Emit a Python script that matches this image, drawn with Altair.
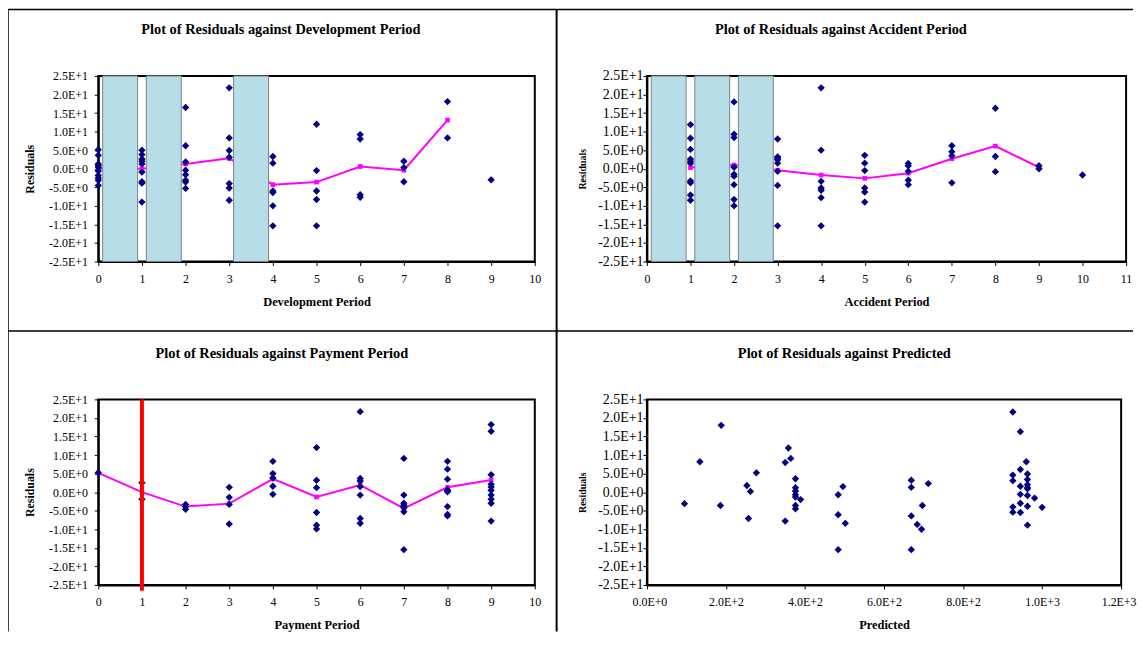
import altair as alt
import pandas as pd

# ---------------- data ----------------
# Plot 1: residuals against development period
DEV_X = [0]*10 + [1]*9 + [2]*8 + [3]*7 + [4]*6 + [5]*5 + [6]*4 + [7]*3 + [8]*2 + [9]
DEV_RES = [5.1, 3.6, 1.3, 0.9, 0.4, -0.6, -1.8, -2.5, -3.1, -4.5,
           5.0, 3.8, 2.6, 2.0, 1.3, -0.9, -3.5, -3.9, -9.0,
           16.5, 6.2, 1.8, -0.4, -1.6, -3.1, -3.6, -5.3,
           21.8, 8.3, 4.9, 3.1, -4.0, -5.2, -8.5,
           3.3, 1.5, -6.4, -6.0, -10.0, -15.4,
           12.0, -0.5, -6.0, -8.3, -15.4,
           9.2, 8.0, -7.0, -7.7,
           2.0, 0.3, -3.5,
           18.1, 8.3,
           -3.0]
DEV_MEAN_X = [0, 1, 2, 3, 4, 5, 6, 7, 8]
DEV_MEAN = [0.0, 0.0, 1.3, 2.8, -4.3, -3.6, 0.6, -0.4, 13.1]
DEV_BAND_FROM = [0.1, 1.1, 3.1]
DEV_BAND_TO = [0.9, 1.9, 3.9]

# Plot 2: residuals against accident period
ACC_X = [1]*10 + [2]*9 + [3]*8 + [4]*7 + [5]*6 + [6]*5 + [7]*4 + [8]*3 + [9]*2 + [10]
ACC_RES = [11.9, 8.2, 5.2, 2.6, 2.0, -3.3, -3.8, -7.1, -8.5, 1.5,
           18.0, 9.3, 8.4, 0.4, -1.5, -2.0, -4.3, -8.3, -10.0,
           8.0, 3.2, 2.4, 1.5, -0.7, -4.5, -15.4, 2.9,
           21.8, 5.0, -3.4, -5.2, -5.8, -7.8, -15.4,
           3.6, 1.5, -0.5, -5.2, -6.3, -9.0,
           1.4, 0.8, -0.7, -3.1, -4.3,
           6.2, 4.6, 3.5, -3.8,
           16.3, 3.3, -0.8,
           0.8, 0.0,
           -1.7]
ACC_MEAN_X = [1, 2, 3, 4, 5, 6, 7, 8, 9]
ACC_MEAN = [0.3, 1.0, -0.4, -1.7, -2.6, -1.2, 2.7, 6.1, 0.4]
ACC_BAND_FROM = [0.1, 1.1, 2.1]
ACC_BAND_TO = [0.9, 1.9, 2.9]

# Plot 3: residuals against payment period
PAY_X = [0] + [1]*2 + [2]*3 + [3]*4 + [4]*5 + [5]*6 + [6]*7 + [7]*8 + [8]*9 + [9]*10
PAY_RES = [5.2,
           2.5, -1.9,
           -3.3, -3.9, -4.6,
           1.3, -1.4, -3.3, -8.6,
           8.3, 5.0, 3.8, 1.6, -0.6,
           12.0, 3.2, 1.2, -5.5, -8.9, -9.9,
           21.7, 3.7, 3.0, 1.5, -0.8, -7.1, -8.4,
           9.1, -0.8, -3.0, -3.5, -4.2, -5.3, -15.5, -3.8,
           8.3, 6.2, 3.5, 0.6, 0.1, -3.9, -6.0, -6.4, 0.3,
           18.2, 16.4, 4.7, 2.1, 1.4, 0.5, -0.8, -1.9, -3.0, -7.8]
PAY_MEAN_X = [0, 1, 2, 3, 4, 5, 6, 7, 8, 9]
PAY_MEAN = [5.2, 0.0, -3.9, -3.1, 3.6, -1.3, 1.9, -4.4, 1.3, 3.3]
PAY_MARKER = [1]

# Plot 4: residuals against predicted
PRED = [95, 134, 188, 186, 253, 262, 257, 277, 350, 358, 364, 350,
        376, 376, 376, 376, 376, 389, 376, 376,
        484, 496, 484, 502, 484,
        669, 669, 712, 697, 669, 684, 695, 669,
        926, 945, 960, 945, 926, 926, 963, 963, 945, 963, 963, 945,
        963, 981, 945, 963, 926, 1000, 926, 945, 963, 963]
PRED_RES = [-3.1, 8.2, 18.0, -3.6, 1.8, 0.2, -7.1, 5.2, 8.0, 11.9, 9.1, -7.8,
            3.6, 1.2, 0.3, -0.7, -1.3, -2.0, -3.6, -4.5,
            -0.7, 1.5, -6.1, -8.4, -15.5,
            3.2, 1.3, 2.3, -3.6, -6.4, -8.7, -10.0, -15.5,
            21.6, 16.3, 8.2, 6.1, 4.6, 3.1, 4.9, 3.4, 1.6, 1.2, 0.9, -0.6,
            -0.9, -1.6, -3.0, -3.8, -4.0, -4.1, -5.4, -5.5, -8.9, 2.0]

# ---------------- tick labels and titles ----------------
Y_TICKS = [-25, -20, -15, -10, -5, 0, 5, 10, 15, 20, 25]
Y_LABELS = ["-2.5E+1", "-2.0E+1", "-1.5E+1", "-1.0E+1", "-5.0E+0", "0.0E+0",
            "5.0E+0", "1.0E+1", "1.5E+1", "2.0E+1", "2.5E+1"]
DEV_TICKS = list(range(0, 11))
ACC_TICKS = list(range(0, 12))
PAY_TICKS = list(range(0, 11))
PRED_TICKS = [0, 200, 400, 600, 800, 1000, 1200]
PRED_LABELS = ["0.0E+0", "2.0E+2", "4.0E+2", "6.0E+2", "8.0E+2", "1.0E+3", "1.2E+3"]
TITLES = ["Plot of Residuals against Development Period",
          "Plot of Residuals against Accident Period",
          "Plot of Residuals against Payment Period",
          "Plot of Residuals against Predicted"]

FONT = "Liberation Serif"
NAVY = "#000080"
MAGENTA = "#FF00FF"
BAND = "#B7DDE8"
H = 187


def label_expr(values, labels):
    expr = "''"
    for v, l in reversed(list(zip(values, labels))):
        expr = f"datum.value == {v} ? '{l}' : ({expr})"
    return expr


def make_panel(px, py, mx, my, xdom, xticks, xlabels, xtitle, title, dx, width,
               ylab_size, ytitle_size, ylab_pad, ytitle_pad,
               bands=None, marker=None, extra=None, flush=False):
    xscale = alt.Scale(domain=xdom, nice=False, zero=False)
    yscale = alt.Scale(domain=[-25, 25], nice=False, zero=False)
    xaxis_kw = dict(values=xticks, labelExpr=label_expr(xticks, xlabels), title=xtitle,
                    grid=False, tickSize=4, tickColor="black", domainColor="black",
                    domainWidth=2, labelFont=FONT, labelFontSize=12, labelColor="black",
                    titleFont=FONT, titleFontSize=12.5, titleFontWeight="bold",
                    titleColor="black", labelPadding=8, titlePadding=11)
    if flush:
        xaxis_kw.update(labelFlush=True, labelFlushOffset=15)
    else:
        xaxis_kw.update(labelFlush=False)
    xaxis = alt.Axis(**xaxis_kw)
    yaxis = alt.Axis(values=Y_TICKS, labelExpr=label_expr(Y_TICKS, Y_LABELS), title="Residuals",
                     grid=False, tickSize=4, tickColor="black", domainColor="black",
                     domainWidth=2, labelFont=FONT, labelFontSize=ylab_size, labelColor="black",
                     titleFont=FONT, titleFontSize=ytitle_size, titleFontWeight="bold",
                     titleColor="black", labelPadding=ylab_pad, titlePadding=ytitle_pad)

    layers = []
    if my is not None:
        mdf = pd.DataFrame({"x": mx, "res": my})
        base = alt.Chart(mdf).encode(
            x=alt.X("x:Q", scale=xscale, axis=xaxis),
            y=alt.Y("res:Q", scale=yscale, axis=yaxis))
        layers.append(base.mark_line(color=MAGENTA, strokeWidth=2))
        layers.append(base.mark_point(shape="square", filled=True, color=MAGENTA,
                                      size=22, opacity=1))
    if bands is not None:
        bdf = pd.DataFrame({"x": bands[0], "x2": bands[1]})
        layers.append(alt.Chart(bdf).mark_rect(fill=BAND, stroke="#7f7f7f", strokeWidth=1).encode(
            x=alt.X("x:Q", scale=xscale, axis=xaxis), x2="x2:Q",
            y=alt.Y(datum=25, scale=yscale, axis=yaxis), y2=alt.Y2(datum=-25)))
    pdf = pd.DataFrame({"x": px, "res": py})
    layers.append(alt.Chart(pdf).mark_point(shape="diamond", filled=True, color=NAVY,
                                            size=55, opacity=1).encode(
        x=alt.X("x:Q", scale=xscale, axis=xaxis),
        y=alt.Y("res:Q", scale=yscale, axis=yaxis)))
    if marker is not None:
        rdf = pd.DataFrame({"x": marker})
        layers.append(alt.Chart(rdf).mark_rule(color="#FF0000", strokeWidth=4).encode(
            x=alt.X("x:Q", scale=xscale, axis=xaxis),
            y=alt.value(0), y2=alt.value(H + 6)))
    # panel title, drawn as text above the plot (centred on the cell)
    tdf = pd.DataFrame({"t": [title]})
    layers.append(alt.Chart(tdf).mark_text(font=FONT, fontSize=14.5, fontWeight="bold",
                                           color="black", align="center", baseline="middle").encode(
        text="t:N", x=alt.value(width / 2 + dx), y=alt.value(-46)))
    if extra:
        layers.extend(extra)
    return alt.layer(*layers).properties(width=width, height=H)


# frame lines of the four cells (decoration, placed relative to panel 1)
one = pd.DataFrame({"d": [0]})
frame = [
    alt.Chart(one).mark_rule(color="black", strokeWidth=1.5).encode(
        x=alt.value(-91), x2=alt.value(-91), y=alt.value(-67), y2=alt.value(560)),
    alt.Chart(one).mark_rule(color="black", strokeWidth=1.5).encode(
        x=alt.value(-91), x2=alt.value(1043), y=alt.value(-67), y2=alt.value(-67)),
    alt.Chart(one).mark_rule(color="black", strokeWidth=2).encode(
        x=alt.value(462), x2=alt.value(462), y=alt.value(-67), y2=alt.value(560)),
    alt.Chart(one).mark_rule(color="black", strokeWidth=1.5).encode(
        x=alt.value(-91), x2=alt.value(1043), y=alt.value(257), y2=alt.value(257)),
]

p1 = make_panel(DEV_X, DEV_RES, DEV_MEAN_X, DEV_MEAN, [0, 10], DEV_TICKS,
                [str(t) for t in DEV_TICKS], "Development Period",
                TITLES[0], -36, 440, 12, 12, 7, 12,
                bands=(DEV_BAND_FROM, DEV_BAND_TO), extra=frame)
p2 = make_panel(ACC_X, ACC_RES, ACC_MEAN_X, ACC_MEAN, [0, 11], ACC_TICKS,
                [str(t) for t in ACC_TICKS], "Accident Period",
                TITLES[1], -46, 483, 14, 10, 0, 10,
                bands=(ACC_BAND_FROM, ACC_BAND_TO))
p3 = make_panel(PAY_X, PAY_RES, PAY_MEAN_X, PAY_MEAN, [0, 10], PAY_TICKS,
                [str(t) for t in PAY_TICKS], "Payment Period",
                TITLES[2], -35, 440, 12, 12, 7, 12, marker=PAY_MARKER)
p4 = make_panel(PRED, PRED_RES, None, None, [0, 1200], PRED_TICKS, PRED_LABELS,
                "Predicted", TITLES[3], -40, 478, 14, 10, 0, 10, flush=True)

chart = alt.concat(p1, p2, p3, p4, columns=2,
                   spacing=alt.RowColnumber(row=139, column=113),
                   bounds="flush").properties(
    padding={"left": -2, "top": -3, "right": 0, "bottom": 0}, background="white"
).configure_view(stroke="black", strokeWidth=2)

chart.save("out.html", embed_options={"renderer": "svg", "actions": False})
